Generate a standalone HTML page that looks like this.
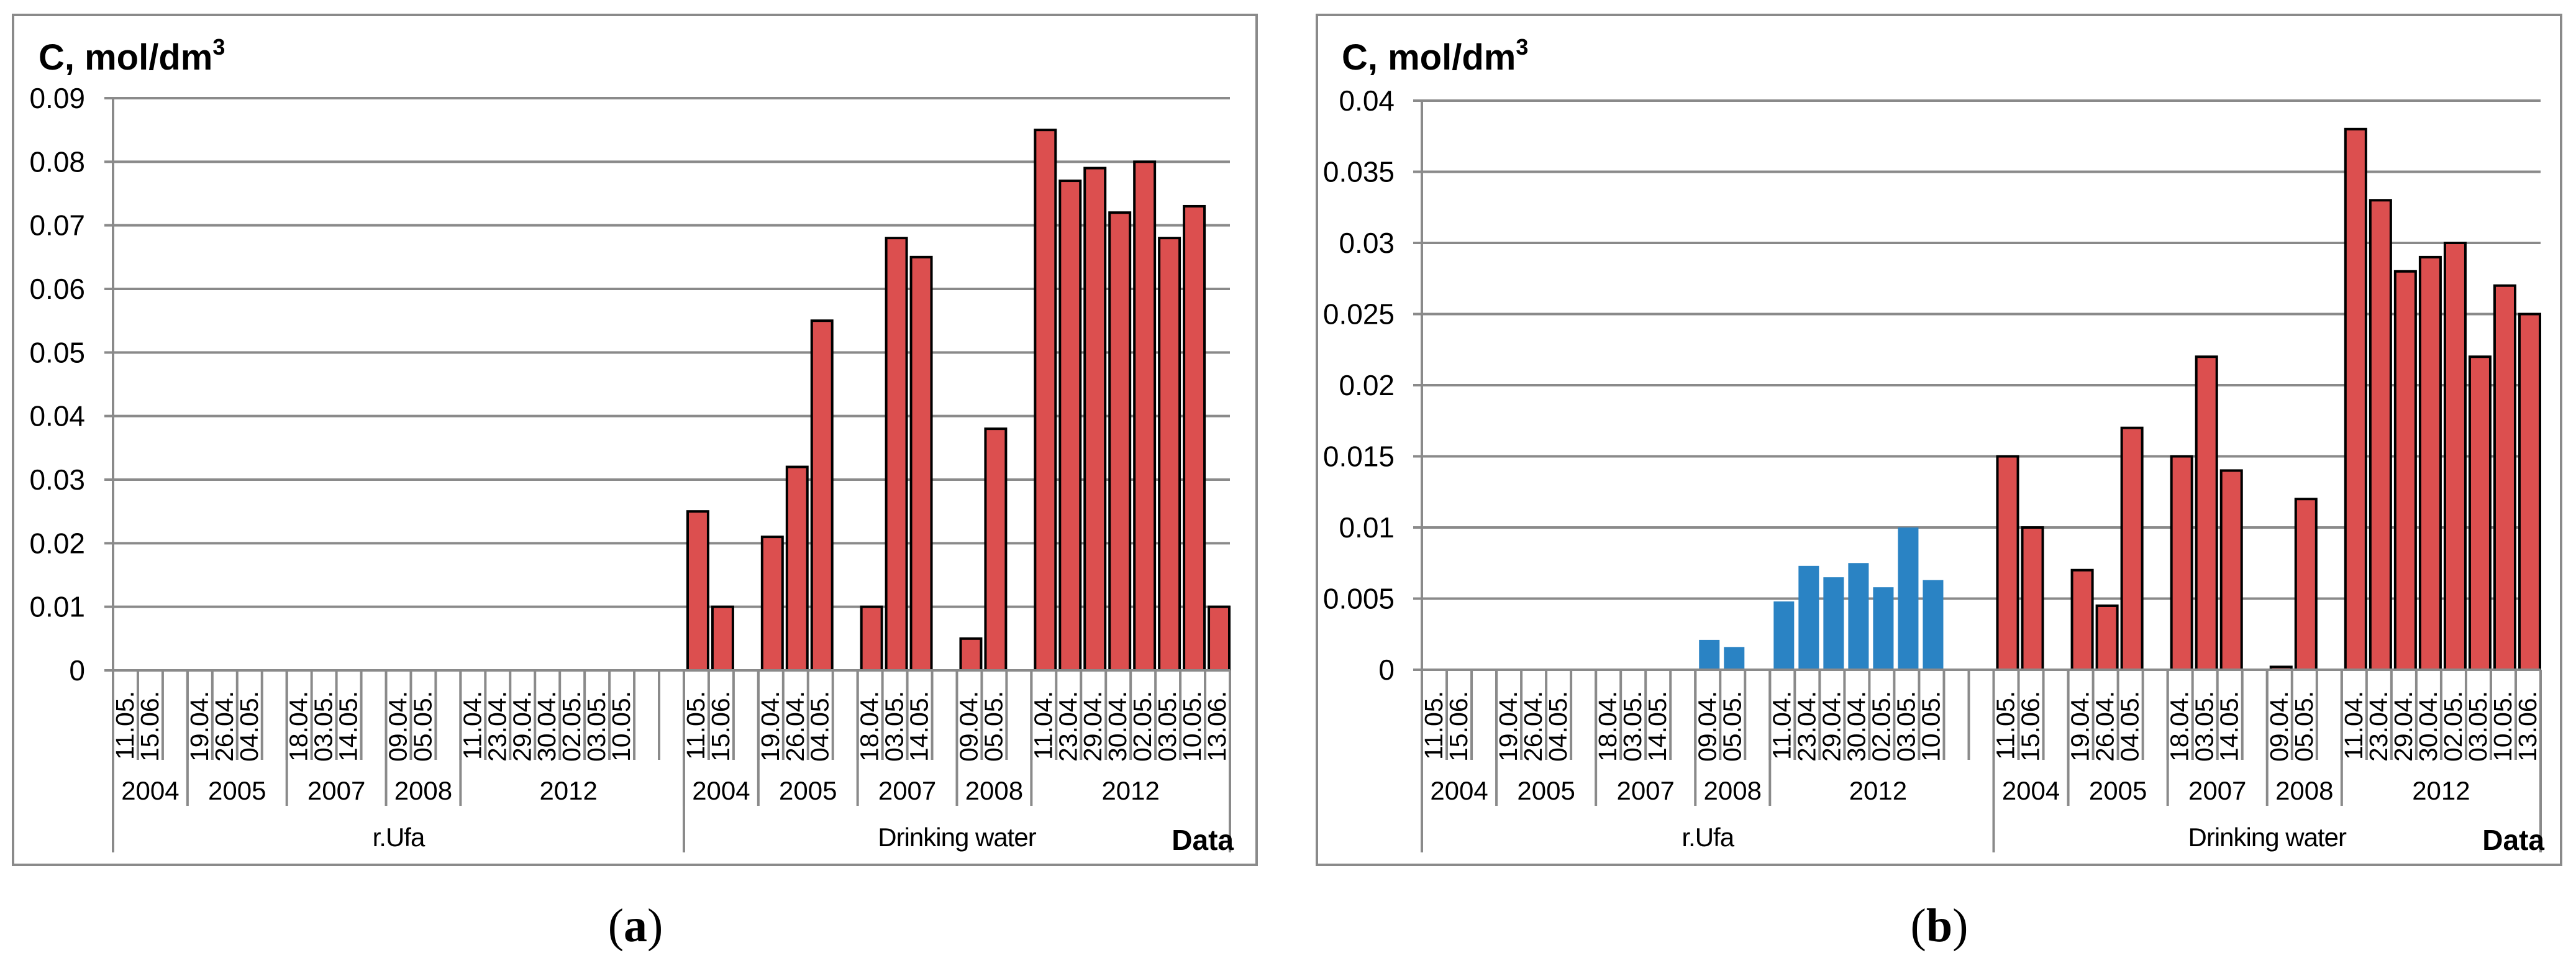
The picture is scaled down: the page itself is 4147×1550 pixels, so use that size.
<!DOCTYPE html>
<html><head><meta charset="utf-8"><style>
html,body{margin:0;padding:0;background:#fff;}
svg{display:block;font-family:"Liberation Sans",Arial,sans-serif;}
</style></head><body>
<svg id="fig" width="4147" height="1550" viewBox="0 0 4147 1550" xmlns="http://www.w3.org/2000/svg"></svg>
<script>
// Categories (slots), '' = empty spacer slot
const catLabels = ['11.05.','15.06.','','19.04.','26.04.','04.05.','','18.04.','03.05.','14.05.','','09.04.','05.05.','','11.04.','23.04.','29.04.','30.04.','02.05.','03.05.','10.05.','','',
  '11.05.','15.06.','','19.04.','26.04.','04.05.','','18.04.','03.05.','14.05.','','09.04.','05.05.','','11.04.','23.04.','29.04.','30.04.','02.05.','03.05.','10.05.','13.06.'];
const yearNames = ['2004','2005','2007','2008','2012','2004','2005','2007','2008','2012'];
const yearSpans = [3,4,4,3,9,3,4,4,3,8];
const siteNames = ['r.Ufa','Drinking water'];
const siteSpans = [23,22];
// Panel (a) values
const aValues = [null,null,null,null,null,null,null,null,null,null,null,null,null,null,null,null,null,null,null,null,null,null,null,
  0.025,0.010,null,0.021,0.032,0.055,null,0.010,0.068,0.065,null,0.005,0.038,null,0.085,0.077,0.079,0.072,0.080,0.068,0.073,0.010];
const aTicks = ['0','0.01','0.02','0.03','0.04','0.05','0.06','0.07','0.08','0.09'];
// Panel (b) values
const bValues = [null,null,null,null,null,null,null,null,null,null,null,0.0021,0.0016,null,0.0048,0.0073,0.0065,0.0075,0.0058,0.0100,0.0063,null,null,
  0.015,0.010,null,0.007,0.0045,0.017,null,0.015,0.022,0.014,null,0.0002,0.012,null,0.038,0.033,0.028,0.029,0.030,0.022,0.027,0.025];
const bTicks = ['0','0.005','0.01','0.015','0.02','0.025','0.03','0.035','0.04'];

const NS='http://www.w3.org/2000/svg';
const svg=document.getElementById('fig');
function mk(tag,attrs,parent){const e=document.createElementNS(NS,tag);for(const k in attrs)e.setAttribute(k,attrs[k]);(parent||svg).appendChild(e);return e;}
const GRAY='#8a8a8a';

function panel(cfg){
  const g=mk('g',{});
  
  
  const fr=mk('rect',{x:cfg.fx,y:24,width:cfg.fw,height:1392-24,fill:'none',stroke:GRAY,'stroke-width':4},g);
  
  
  const x0=cfg.x0,x1=cfg.x1,yTop=cfg.yTop,yZero=cfg.yZero;
  const n=catLabels.length, slot=(x1-x0)/n;
  const maxV=parseFloat(cfg.ticks[cfg.ticks.length-1]);
  const yS=v=>yZero-(v/maxV)*(yZero-yTop);
  const xS=i=>x0+i*slot;
  // gridlines + tick labels
  cfg.ticks.forEach(t=>{
    const v=parseFloat(t),y=yS(v);
    const l=mk('line',{x1:x0-14,x2:x1,y1:y,y2:y,stroke:GRAY,'stroke-width':4},g);
    
    
    const tx=mk('text',{x:cfg.tickRight,y:y+16,'font-size':46,'text-anchor':'end',fill:'#000'},g);
    tx.textContent=t;
    
    
  });
  // y axis
  const ya=mk('line',{x1:x0,x2:x0,y1:yTop,y2:1372,stroke:GRAY,'stroke-width':4},g);
  
  
  // bars
  cfg.values.forEach((v,i)=>{
    if(v===null)return;
    const bx=xS(i)+6, y=yS(v);
    const isBlue=i<siteSpans[0];
    const r=mk('rect',{x:bx,y:y,width:slot-7,height:yZero-y,fill:isBlue?'#2a83c4':'#dc4f4f',stroke:isBlue?'none':'#000','stroke-width':isBlue?0:4},g);
    
    
  });
  // x axis line on top of bar bottoms
  const xa=mk('line',{x1:x0-14,x2:x1,y1:yZero,y2:yZero,stroke:GRAY,'stroke-width':4},g);
  
  
  // date ticks & labels
  for(let i=1;i<=n;i++){
    const l=mk('line',{x1:xS(i),x2:xS(i),y1:yZero,y2:1223,stroke:GRAY,'stroke-width':4},g);
    
    
  }
  catLabels.forEach((c,i)=>{
    if(!c)return;
    const cx=xS(i)+slot/2+13, cy=1112;
    const t=mk('text',{x:cx,y:cy,'font-size':41,'text-anchor':'end',transform:`rotate(-90 ${cx} ${cy})`,fill:'#000'},g);
    t.textContent=c;
    
    
  });
  // years
  let k=0;
  yearNames.forEach((yn,j)=>{
    const a=xS(k),b=xS(k+yearSpans[j]);
    const l=mk('line',{x1:b,x2:b,y1:yZero,y2:1297,stroke:GRAY,'stroke-width':4},g);
    
    
    const t=mk('text',{x:(a+b)/2+(j===4?-6:0),y:1287,'font-size':42,'text-anchor':'middle',fill:'#000'},g);
    t.textContent=yn;
    
    
    k+=yearSpans[j];
  });
  // sites
  k=0;
  siteNames.forEach((sn,j)=>{
    const a=xS(k),b=xS(k+siteSpans[j]);
    const l=mk('line',{x1:b,x2:b,y1:yZero,y2:1372,stroke:GRAY,'stroke-width':4},g);
    
    
    const t=mk('text',{x:(a+b)/2,y:1362,'font-size':42,'text-anchor':'middle',fill:'#000','letter-spacing':'-1'},g);
    t.textContent=sn;
    
    
    k+=siteSpans[j];
  });
  const d=mk('text',{x:x1+6,y:1368,'font-size':46,'font-weight':'bold','text-anchor':'end',fill:'#000'},g);
  d.textContent='Data';
  
  
  const yt=mk('text',{x:cfg.titleX,y:112,'font-size':58,'font-weight':'bold',fill:'#000'},g);
  yt.textContent='C, mol/dm';
  const sup=mk('tspan',{'font-size':36,dy:-24},yt);
  sup.textContent='3';
  
  
  const cap=mk('text',{x:cfg.capX,y:1515,'font-size':76,'text-anchor':'middle',fill:'#000','font-family':'"Liberation Serif",serif'},g);
  cap.textContent='(';
  const ts=mk('tspan',{'font-weight':'bold'},cap);ts.textContent=cfg.letter;
  const ts2=mk('tspan',{},cap);ts2.textContent=')';
  
  
}
panel({name:'panel-a',fx:21,fw:2002,x0:182,x1:1980,yTop:158,yZero:1079,values:aValues,ticks:aTicks,tickRight:137,titleX:62,capX:1023,letter:'a'});
panel({name:'panel-b',fx:2120,fw:2003,x0:2289,x1:4090,yTop:162,yZero:1078,values:bValues,ticks:bTicks,tickRight:2245,titleX:2160,capX:3122,letter:'b'});
</script>
</body></html>
